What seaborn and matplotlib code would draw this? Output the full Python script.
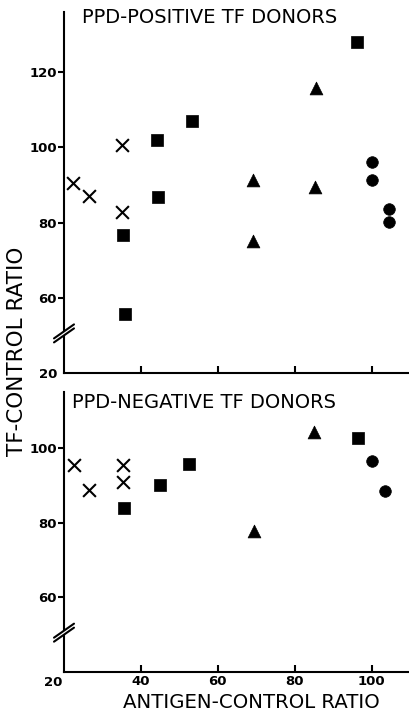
import pandas as pd
import matplotlib
matplotlib.use("Agg")
import matplotlib.pyplot as plt
from matplotlib.lines import Line2D
from matplotlib.patches import Polygon
import seaborn as sns

sns.set_style("ticks")
plt.rcParams['font.family'] = ['DejaVu Sans']
plt.rcParams['text.color'] = 'black'
plt.rcParams['xtick.color'] = 'black'
plt.rcParams['ytick.color'] = 'black'
plt.rcParams['axes.edgecolor'] = 'black'

# Data (antigen-control ratio vs TF-control ratio)
groups = ['x', 'square', 'triangle', 'circle']

pos_x_x = [22.3, 26.5, 35.0, 35.2]
pos_x_y = [90.6, 87.1, 100.5, 82.7]
pos_sq_x = [35.3, 35.8, 44.2, 44.4, 53.2, 96.2]
pos_sq_y = [76.7, 55.6, 101.9, 86.7, 107.0, 128.0]
pos_tri_x = [69.2, 69.2, 85.5, 85.3]
pos_tri_y = [91.3, 75.2, 115.9, 89.5]
pos_ci_x = [100.1, 100.1, 104.4, 104.4]
pos_ci_y = [96.0, 91.3, 83.5, 80.2]

neg_x_x = [22.6, 26.4, 35.3, 35.3]
neg_x_y = [95.5, 88.7, 95.4, 90.9]
neg_sq_x = [35.6, 44.9, 52.5, 96.4]
neg_sq_y = [83.8, 90.0, 95.8, 102.7]
neg_tri_x = [69.5, 84.9]
neg_tri_y = [77.7, 104.2]
neg_ci_x = [100.0, 103.5]
neg_ci_y = [96.6, 88.6]


def build(xx, xy, sx, sy, tx, ty, cx, cy):
    parts = []
    for g, xs, ys in zip(groups, [xx, sx, tx, cx], [xy, sy, ty, cy]):
        parts.append(pd.DataFrame({'x': xs, 'y': ys, 'group': g}))
    return pd.concat(parts, ignore_index=True)


df_pos = build(pos_x_x, pos_x_y, pos_sq_x, pos_sq_y, pos_tri_x, pos_tri_y, pos_ci_x, pos_ci_y)
df_neg = build(neg_x_x, neg_x_y, neg_sq_x, neg_sq_y, neg_tri_x, neg_tri_y, neg_ci_x, neg_ci_y)

fig = plt.figure(figsize=(4.09, 7.12), dpi=100)
W, H = 409, 712
ax1 = fig.add_axes([64 / W, (H - 373) / H, 345 / W, 361 / H])
ax2 = fig.add_axes([64 / W, (H - 672) / H, 345 / W, 280 / H])

filled = {'square': 's', 'triangle': '^', 'circle': 'o'}
sizes = {'square': 80, 'triangle': 85, 'circle': 70}


def draw(ax, df, ylim, yticks, ylabels, title, tx, ty):
    sub = df[df['group'] == 'x']
    sns.scatterplot(data=sub, x='x', y='y', marker='x', color='black', s=85,
                    linewidth=1.5, ax=ax, legend=False)
    for g, m in filled.items():
        sub = df[df['group'] == g]
        sns.scatterplot(data=sub, x='x', y='y', marker=m, color='black',
                        s=sizes[g], edgecolor='black', linewidth=0.5, ax=ax, legend=False)
    ax.set_xlim(20, 109.7)
    ax.set_ylim(*ylim)
    ax.set_yticks(yticks)
    ax.set_yticklabels(ylabels, fontsize=9.5, fontweight='bold')
    ax.set_xlabel('')
    ax.set_ylabel('')
    sns.despine(ax=ax)
    for s in ['left', 'bottom']:
        ax.spines[s].set_linewidth(1.5)
    ax.tick_params(axis='y', direction='out', length=4, width=1.5, pad=1)
    ax.tick_params(axis='x', direction='in', length=5, width=1.5, pad=2)
    ax.yaxis.get_major_ticks()[0].tick1line.set_visible(False)
    ax.text(tx, ty, title, transform=ax.transAxes, ha='left', va='center', fontsize=14)


draw(ax1, df_pos, (40, 136), [40, 60, 80, 100, 120], ['20', '60', '80', '100', '120'],
     'PPD-POSITIVE TF DONORS', 0.052, 0.985)
ax1.set_xticks([40, 60, 80, 100])
ax1.set_xticklabels([])

draw(ax2, df_neg, (40, 115), [60, 80, 100], ['60', '80', '100'],
     'PPD-NEGATIVE TF DONORS', 0.023, 0.961)
ax2.yaxis.get_major_ticks()[0].tick1line.set_visible(True)
ax2.set_xticks([20, 40, 60, 80, 100])
ax2.set_xticklabels(['', '40', '60', '80', '100'], fontsize=9.5, fontweight='bold')
ax2.xaxis.get_major_ticks()[0].tick1line.set_visible(False)
ax2.annotate('20', xy=(20, 40), xytext=(-8, -3), textcoords='offset points',
             ha='center', va='top', fontsize=9.5, fontweight='bold', annotation_clip=False)

fig.text(123 / W, 1 - 703 / H, 'ANTIGEN-CONTROL RATIO', ha='left', va='center', fontsize=14.2)
fig.text(17 / W, 1 - 351 / H, 'TF-CONTROL RATIO', ha='center', va='center',
         rotation=90, fontsize=15.5)

# axis break marks on the y axes
fig.canvas.draw()
inv = fig.transFigure.inverted()
for ax in (ax1, ax2):
    px, py = ax.transData.transform((20, 50))
    gap = [(px - 12, py - 8), (px + 12, py + 8), (px + 12, py + 12), (px - 12, py - 4)]
    fig.patches.append(Polygon(inv.transform(gap), closed=True, facecolor='white',
                               edgecolor='none', transform=fig.transFigure, zorder=5))
    for off in (0, 4):
        p = inv.transform([(px - 10, py - 7 + off), (px + 10, py + 7 + off)])
        fig.lines.append(Line2D(p[:, 0], p[:, 1], color='black', lw=1.5,
                                transform=fig.transFigure, zorder=6))

fig.savefig('out.png', dpi=100)
